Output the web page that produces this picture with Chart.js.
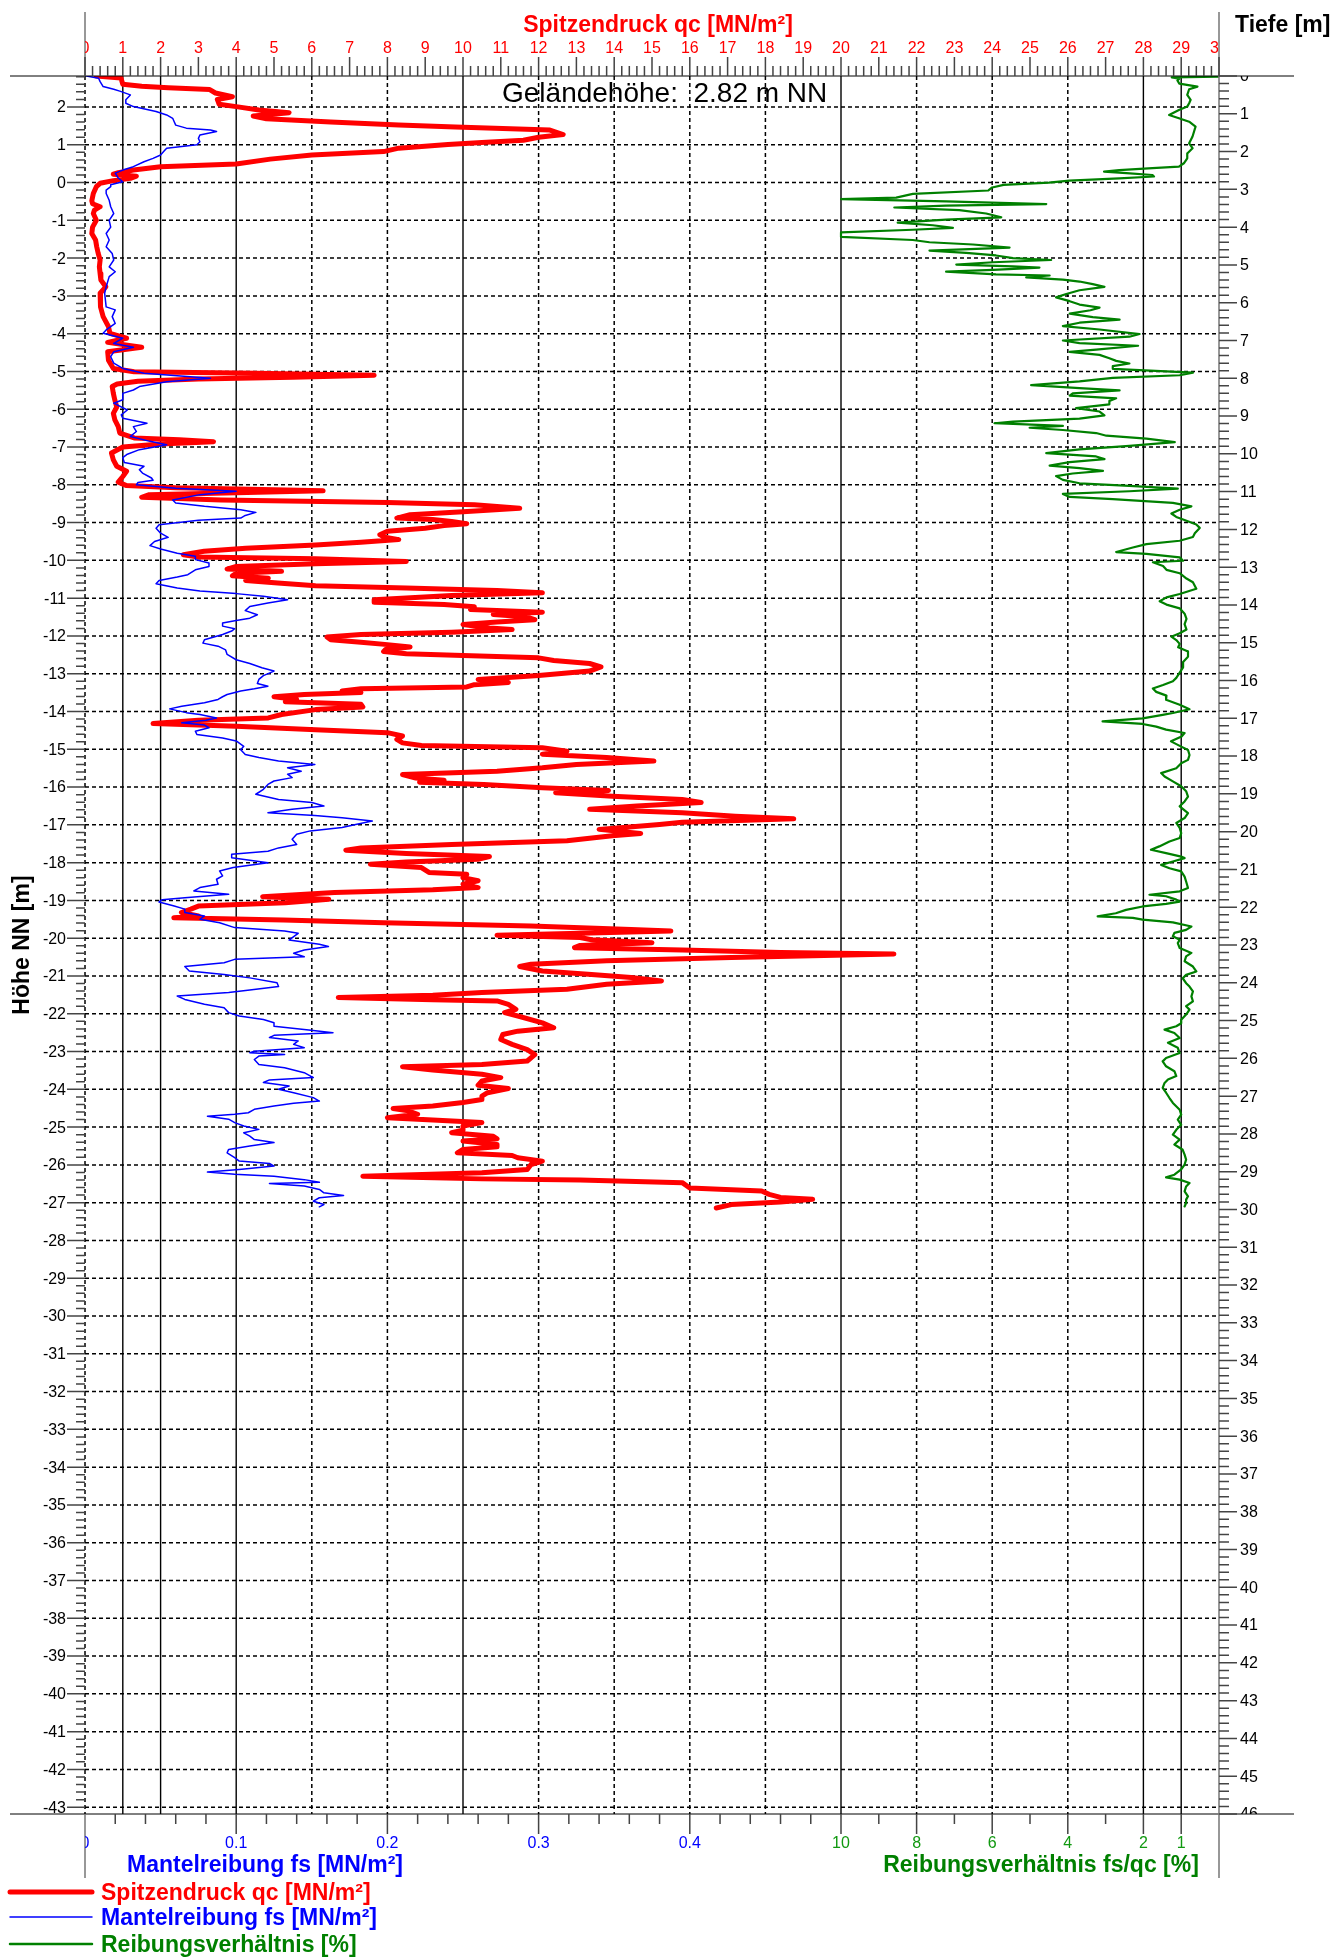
<!DOCTYPE html>
<html>
<head>
<meta charset="utf-8">
<script src="https://cdn.jsdelivr.net/npm/chart.js@4.4.0/dist/chart.umd.min.js"></script>
<style>
html,body{margin:0;padding:0;background:#fff;}
canvas{display:block;}
</style>
</head>
<body>
<canvas id="c" width="1336" height="1959"></canvas>
<script>
// ---------- DATA ----------
// Spitzendruck qc [MN/m²] vs Tiefe [m]
const qcDepth = [0.00,0.05,0.22,0.27,0.31,0.36,0.45,0.55,0.62,0.75,0.81,0.90,0.97,1.06,1.13,1.22,1.30,1.35,1.43,1.55,1.62,1.70,1.76,1.81,1.91,2.00,2.09,2.20,2.33,2.40,2.49,2.56,2.60,2.65,2.71,2.77,2.84,2.93,3.11,3.30,3.38,3.46,3.55,3.64,3.82,4.00,4.17,4.34,4.52,4.70,4.87,5.05,5.23,5.40,5.58,5.75,5.95,6.11,6.37,6.63,6.81,6.94,7.05,7.18,7.30,7.52,7.74,7.83,7.87,7.92,7.97,8.02,8.08,8.15,8.22,8.40,8.58,8.76,8.93,9.10,9.28,9.45,9.58,9.63,9.68,9.74,9.82,9.98,10.16,10.33,10.46,10.60,10.75,10.84,10.90,10.98,11.03,11.08,11.15,11.22,11.29,11.35,11.44,11.53,11.61,11.70,11.74,11.79,11.85,11.90,11.97,12.05,12.14,12.20,12.27,12.34,12.41,12.50,12.58,12.67,12.73,12.78,12.85,12.91,12.98,13.05,13.11,13.16,13.23,13.29,13.35,13.42,13.49,13.55,13.62,13.68,13.75,13.86,13.93,13.99,14.05,14.12,14.19,14.25,14.31,14.39,14.45,14.52,14.61,14.65,14.72,14.78,14.85,14.92,14.99,15.05,15.11,15.18,15.23,15.29,15.34,15.40,15.47,15.55,15.64,15.75,15.87,15.97,16.05,16.11,16.17,16.22,16.28,16.32,16.37,16.43,16.50,16.56,16.63,16.70,16.77,16.90,16.99,17.05,17.14,17.21,17.30,17.38,17.47,17.56,17.65,17.72,17.78,17.87,17.95,18.04,18.13,18.22,18.31,18.40,18.49,18.58,18.64,18.69,18.75,18.84,18.91,18.97,19.06,19.15,19.23,19.32,19.41,19.50,19.59,19.66,19.75,19.81,19.94,20.05,20.11,20.24,20.34,20.43,20.49,20.58,20.66,20.73,20.80,20.86,20.95,21.08,21.13,21.22,21.30,21.39,21.48,21.54,21.61,21.72,21.79,21.88,21.97,22.05,22.14,22.23,22.28,22.34,22.41,22.50,22.59,22.63,22.69,22.74,22.80,22.86,22.94,23.01,23.07,23.13,23.20,23.24,23.33,23.42,23.51,23.57,23.69,23.78,23.86,23.95,24.04,24.17,24.26,24.33,24.39,24.45,24.48,24.57,24.70,24.79,24.88,25.06,25.19,25.28,25.37,25.50,25.63,25.77,25.90,26.07,26.16,26.22,26.31,26.42,26.51,26.60,26.71,26.80,26.91,27.00,27.09,27.17,27.26,27.33,27.39,27.48,27.57,27.63,27.70,27.79,27.90,27.97,28.06,28.13,28.19,28.28,28.34,28.41,28.50,28.57,28.63,28.72,28.81,28.94,29.03,29.12,29.19,29.22,29.29,29.43,29.51,29.60,29.68,29.73,29.80,29.87,29.96];
const qcValues = [0.30,0.95,1.00,1.50,2.20,3.30,3.45,3.90,3.50,3.55,4.00,4.60,5.40,4.45,4.80,6.50,8.30,9.80,12.30,12.65,12.00,11.60,10.50,9.60,8.30,7.90,6.00,4.90,4.00,2.00,1.28,0.88,0.75,1.36,1.20,0.75,0.40,0.30,0.22,0.18,0.20,0.40,0.25,0.22,0.30,0.20,0.18,0.28,0.31,0.35,0.40,0.38,0.40,0.42,0.55,0.40,0.42,0.40,0.48,0.62,0.66,1.10,0.60,1.50,0.60,0.62,0.75,1.30,4.50,7.65,5.50,3.00,1.40,0.85,0.72,0.75,0.79,0.84,0.75,0.79,0.88,0.92,1.30,2.50,3.40,2.00,1.00,0.70,0.75,0.84,1.10,1.00,0.88,1.10,2.40,6.30,4.00,1.70,1.50,3.60,8.00,10.30,11.50,10.00,8.60,8.25,9.20,9.70,10.10,9.50,9.00,8.00,7.80,7.90,8.30,7.30,6.10,4.25,3.15,2.60,3.00,6.10,8.50,6.10,4.00,3.76,5.20,4.00,3.90,4.85,4.25,5.10,6.10,8.50,10.90,12.10,9.70,7.65,7.65,9.50,10.30,10.20,12.10,10.80,11.65,11.90,10.90,10.00,10.70,11.30,9.70,7.30,6.40,6.50,7.30,8.00,8.60,7.95,7.90,8.50,10.00,12.00,12.40,13.35,13.65,13.35,12.00,10.40,11.20,10.30,10.10,7.30,6.80,7.30,5.80,5.00,5.60,5.30,7.30,7.35,6.10,5.20,4.85,3.00,1.80,4.00,6.10,8.00,8.40,8.25,8.40,8.90,12.10,12.75,12.10,13.80,15.05,13.00,12.10,10.90,8.40,8.75,9.50,8.85,10.55,12.10,13.85,12.45,13.95,15.80,16.30,14.60,13.35,15.80,17.20,18.75,15.80,15.20,13.60,14.70,13.95,12.75,9.70,7.30,6.90,8.50,10.70,10.40,8.50,7.55,8.90,9.10,10.10,10.00,10.40,10.00,10.40,9.20,6.60,4.70,6.45,5.30,3.00,2.80,2.55,3.00,2.35,5.25,7.90,11.80,14.45,15.50,13.10,10.90,13.10,13.40,15.00,13.10,12.95,15.80,18.40,21.40,17.10,13.80,11.80,11.50,12.10,13.40,14.45,15.25,13.80,12.75,10.50,9.20,6.70,9.20,10.90,11.20,11.40,11.10,11.45,12.10,12.40,11.45,11.05,11.00,11.30,11.70,11.90,11.70,10.50,8.40,9.20,10.50,11.00,10.50,10.40,11.20,10.65,10.50,10.50,10.00,9.20,8.15,8.55,8.80,8.00,9.20,10.50,10.00,10.00,9.70,10.80,10.90,10.00,10.90,10.90,10.00,9.85,11.30,11.45,12.10,11.80,11.70,10.50,7.35,10.50,13.10,15.80,16.00,17.90,18.10,18.40,19.25,18.40,17.10,16.70];

// Mantelreibung fs [MN/m²] vs Tiefe [m]
const fsDepth = [0.00,0.06,0.15,0.28,0.35,0.40,0.50,0.63,0.72,0.81,0.94,1.03,1.12,1.21,1.30,1.38,1.43,1.47,1.56,1.65,1.74,1.82,1.91,2.00,2.09,2.18,2.27,2.40,2.49,2.57,2.70,2.80,2.88,2.93,3.02,3.11,3.29,3.46,3.64,3.82,4.00,4.17,4.34,4.52,4.70,4.87,5.05,5.18,5.31,5.58,5.75,6.11,6.19,6.37,6.55,6.72,6.81,6.94,7.08,7.18,7.30,7.43,7.60,7.74,7.87,8.00,8.09,8.22,8.31,8.40,8.57,8.66,8.84,8.97,9.06,9.19,9.28,9.41,9.54,9.67,9.76,9.89,10.01,10.10,10.23,10.33,10.42,10.51,10.64,10.70,10.76,10.82,10.91,10.99,11.08,11.22,11.30,11.39,11.48,11.55,11.63,11.70,11.76,11.88,11.97,12.10,12.21,12.32,12.43,12.52,12.63,12.71,12.80,12.89,12.98,13.07,13.20,13.26,13.35,13.44,13.55,13.63,13.70,13.77,13.86,13.95,14.04,14.15,14.26,14.35,14.41,14.48,14.56,14.63,14.69,14.78,14.92,15.01,15.09,15.19,15.31,15.45,15.55,15.66,15.75,15.87,15.97,16.08,16.15,16.22,16.28,16.37,16.43,16.50,16.59,16.68,16.75,16.85,16.90,16.99,17.05,17.12,17.18,17.25,17.34,17.43,17.52,17.60,17.74,17.83,17.96,18.04,18.13,18.22,18.31,18.40,18.48,18.57,18.66,18.75,18.88,19.01,19.15,19.23,19.32,19.41,19.50,19.57,19.63,19.72,19.81,19.89,19.98,20.07,20.20,20.34,20.43,20.52,20.60,20.69,20.82,20.95,21.04,21.17,21.26,21.39,21.48,21.57,21.66,21.75,21.80,21.86,21.97,22.05,22.14,22.23,22.32,22.41,22.54,22.63,22.69,22.78,22.87,22.98,23.04,23.13,23.22,23.31,23.38,23.47,23.57,23.69,23.78,23.87,24.00,24.10,24.19,24.26,24.35,24.44,24.57,24.66,24.79,24.88,24.97,25.06,25.15,25.25,25.32,25.39,25.45,25.54,25.63,25.72,25.81,25.85,25.90,25.94,26.03,26.16,26.25,26.38,26.51,26.57,26.64,26.73,26.82,26.91,27.04,27.13,27.19,27.26,27.35,27.44,27.48,27.53,27.61,27.70,27.79,27.88,27.97,28.06,28.15,28.23,28.32,28.41,28.50,28.63,28.72,28.78,28.85,28.94,29.01,29.07,29.12,29.21,29.28,29.31,29.38,29.47,29.56,29.63,29.69,29.78,29.87,29.93];
const fsValues = [0.001,0.009,0.010,0.012,0.019,0.023,0.030,0.027,0.027,0.032,0.047,0.054,0.058,0.059,0.060,0.067,0.083,0.087,0.076,0.075,0.076,0.074,0.054,0.052,0.050,0.045,0.039,0.032,0.025,0.020,0.022,0.025,0.017,0.017,0.014,0.014,0.016,0.017,0.019,0.016,0.017,0.014,0.016,0.014,0.018,0.019,0.016,0.020,0.016,0.014,0.013,0.014,0.020,0.018,0.020,0.014,0.012,0.025,0.019,0.032,0.019,0.017,0.019,0.025,0.039,0.083,0.054,0.036,0.032,0.025,0.025,0.019,0.028,0.024,0.025,0.041,0.032,0.034,0.030,0.043,0.054,0.036,0.028,0.025,0.026,0.039,0.036,0.038,0.044,0.045,0.035,0.034,0.060,0.100,0.076,0.058,0.060,0.079,0.103,0.113,0.106,0.103,0.075,0.049,0.047,0.050,0.055,0.046,0.043,0.050,0.061,0.073,0.073,0.082,0.082,0.073,0.068,0.061,0.049,0.047,0.061,0.076,0.100,0.118,0.134,0.121,0.109,0.106,0.114,0.109,0.100,0.091,0.091,0.099,0.097,0.091,0.079,0.078,0.088,0.093,0.094,0.100,0.109,0.117,0.125,0.118,0.115,0.114,0.121,0.112,0.103,0.094,0.091,0.088,0.079,0.064,0.056,0.067,0.076,0.087,0.080,0.064,0.079,0.082,0.073,0.074,0.091,0.100,0.105,0.103,0.106,0.115,0.128,0.152,0.134,0.143,0.134,0.137,0.125,0.121,0.118,0.113,0.128,0.150,0.158,0.137,0.121,0.152,0.170,0.190,0.179,0.170,0.149,0.140,0.137,0.140,0.128,0.121,0.097,0.097,0.121,0.098,0.089,0.091,0.087,0.088,0.076,0.072,0.095,0.066,0.051,0.049,0.059,0.066,0.066,0.079,0.076,0.089,0.099,0.132,0.141,0.138,0.135,0.155,0.161,0.145,0.138,0.145,0.099,0.092,0.066,0.069,0.092,0.109,0.127,0.128,0.109,0.095,0.061,0.066,0.079,0.092,0.095,0.102,0.118,0.125,0.125,0.148,0.164,0.125,0.122,0.141,0.138,0.145,0.112,0.109,0.132,0.115,0.112,0.115,0.132,0.145,0.151,0.122,0.118,0.135,0.128,0.138,0.151,0.155,0.138,0.125,0.112,0.108,0.099,0.081,0.095,0.099,0.105,0.115,0.105,0.109,0.112,0.125,0.109,0.095,0.094,0.099,0.102,0.122,0.125,0.102,0.081,0.099,0.125,0.145,0.155,0.122,0.145,0.155,0.158,0.171,0.155,0.151,0.158,0.155];

// Reibungsverhältnis fs/qc [%] vs Tiefe [m]
const rfDepth = [0.02,0.035,0.07,0.12,0.20,0.28,0.35,0.50,0.63,0.72,0.81,0.90,1.03,1.12,1.21,1.34,1.47,1.60,1.78,1.91,2.05,2.18,2.31,2.40,2.44,2.49,2.53,2.57,2.62,2.66,2.71,2.77,2.82,2.88,2.95,3.03,3.12,3.22,3.26,3.32,3.39,3.43,3.48,3.55,3.64,3.74,3.80,3.88,3.95,4.02,4.07,4.14,4.26,4.34,4.40,4.46,4.54,4.62,4.68,4.75,4.82,4.87,4.93,4.99,5.04,5.07,5.13,5.18,5.25,5.28,5.33,5.39,5.44,5.51,5.58,5.67,5.77,5.86,5.96,6.05,6.13,6.20,6.29,6.38,6.45,6.53,6.62,6.71,6.83,6.90,7.00,7.07,7.14,7.24,7.30,7.38,7.47,7.54,7.61,7.68,7.75,7.85,7.92,7.99,8.08,8.18,8.26,8.32,8.40,8.46,8.53,8.60,8.69,8.79,8.88,8.98,9.07,9.15,9.19,9.26,9.31,9.37,9.45,9.52,9.60,9.69,9.79,9.88,9.98,10.07,10.14,10.22,10.31,10.38,10.45,10.52,10.59,10.69,10.78,10.85,10.92,10.99,11.06,11.14,11.20,11.30,11.39,11.48,11.58,11.67,11.77,11.87,11.96,12.10,12.20,12.30,12.39,12.48,12.60,12.65,12.74,12.83,12.87,12.97,13.07,13.16,13.30,13.40,13.57,13.71,13.80,13.90,13.99,14.09,14.23,14.37,14.51,14.65,14.75,14.84,14.93,15.03,15.12,15.23,15.37,15.51,15.65,15.79,15.93,16.02,16.12,16.21,16.30,16.40,16.51,16.64,16.76,16.86,16.91,17.00,17.08,17.15,17.22,17.30,17.39,17.48,17.61,17.75,17.84,17.97,18.10,18.19,18.32,18.45,18.54,18.67,18.80,18.93,19.07,19.20,19.33,19.51,19.64,19.77,19.90,20.04,20.17,20.26,20.39,20.48,20.57,20.66,20.70,20.79,20.88,20.97,21.05,21.19,21.32,21.49,21.58,21.67,21.71,21.80,21.85,21.91,21.98,22.07,22.16,22.24,22.28,22.33,22.40,22.51,22.60,22.68,22.77,22.86,22.95,23.08,23.21,23.30,23.43,23.57,23.70,23.79,23.88,24.01,24.10,24.23,24.36,24.49,24.62,24.71,24.84,24.98,25.07,25.15,25.24,25.33,25.46,25.59,25.72,25.86,25.99,26.08,26.21,26.34,26.47,26.56,26.65,26.78,26.91,27.05,27.18,27.36,27.49,27.62,27.76,27.89,28.02,28.15,28.28,28.42,28.55,28.68,28.81,28.94,29.08,29.15,29.21,29.30,29.39,29.52,29.65,29.74,29.83,29.92];
const rfValues = [0.00,1.25,1.05,1.10,1.05,0.57,0.79,0.84,0.75,0.79,0.84,1.06,1.32,1.06,0.79,0.62,0.66,0.70,0.79,0.70,0.84,0.84,0.93,1.06,1.76,2.64,3.04,2.45,1.76,1.72,2.64,3.96,4.50,5.70,6.00,6.10,8.10,8.54,10.00,7.22,4.57,7.22,8.59,6.87,6.16,5.76,7.22,8.50,7.57,7.04,8.10,10.00,10.00,8.10,7.66,6.51,5.54,7.66,6.69,5.90,5.45,4.44,5.98,6.95,5.45,4.75,5.98,7.22,5.90,4.48,5.10,4.13,3.69,3.34,3.03,3.69,4.04,4.31,3.95,3.69,3.16,3.40,3.95,3.34,2.63,3.69,4.13,3.16,2.10,2.37,4.13,3.69,2.14,3.25,3.95,3.16,2.90,2.72,2.37,2.81,2.81,0.69,1.04,2.81,3.69,4.97,3.69,2.63,3.87,3.95,2.72,2.90,2.90,3.78,3.16,3.03,3.69,5.45,5.94,4.13,5.01,4.13,3.25,2.98,1.92,1.17,2.37,3.69,4.57,3.25,3.03,3.95,4.48,3.69,3.07,3.87,4.31,4.13,3.69,2.37,1.09,2.37,4.13,3.95,2.81,1.22,0.73,1.04,1.26,1.13,0.86,0.60,0.51,0.64,0.69,1.04,1.92,2.28,2.72,1.92,1.04,0.95,1.75,1.48,1.39,1.04,0.86,0.69,0.60,1.04,1.39,1.57,1.39,1.04,0.91,0.86,0.91,0.86,1.04,1.26,1.13,1.04,1.08,0.82,0.82,0.95,0.95,1.04,1.13,1.22,1.48,1.75,1.66,1.39,1.40,1.04,0.78,1.22,1.49,2.02,3.08,2.02,1.66,1.40,0.91,0.99,1.27,1.00,0.82,0.78,0.82,1.00,1.13,1.53,1.44,1.22,1.00,0.87,0.82,0.91,1.04,0.82,0.91,1.13,1.04,1.00,1.04,1.31,1.58,1.80,1.40,1.00,0.91,1.22,1.53,1.31,1.00,0.91,0.87,0.82,1.04,1.84,1.40,1.13,1.04,1.40,2.02,2.46,2.73,3.21,2.28,2.02,1.22,0.73,0.87,1.18,1.22,1.04,1.09,1.04,0.73,0.87,0.91,0.69,0.60,0.87,0.96,0.87,0.78,0.69,0.73,0.69,0.87,0.78,0.87,1.00,1.00,1.13,1.44,1.18,1.04,1.35,1.09,1.04,1.40,1.49,1.40,1.18,1.13,1.35,1.44,1.49,1.40,1.31,1.22,1.04,1.00,1.09,1.00,1.13,1.22,1.04,1.18,0.96,0.91,0.87,0.91,1.00,1.18,1.40,1.04,0.78,0.87,0.91,0.82,0.87,0.87,0.91];

// Tick labels
const qcTickLabels = ['0','1','2','3','4','5','6','7','8','9','10','11','12','13','14','15','16','17','18','19','20','21','22','23','24','25','26','27','28','29','30'];
const fsTickValues = [0, 0.1, 0.2, 0.3, 0.4];
const fsTickLabels = ['0','0.1','0.2','0.3','0.4'];
const rfTickValues = [10, 8, 6, 4, 2, 1];
const rfTickLabels = ['10','8','6','4','2','1'];
const rfMinorTicks = [9, 7, 5, 3];
const groundLevel = 2.82;     // Geländehöhe m NN
const depthMax = 46;          // Tiefe [m] range
const qcDashedGrid = [0,6,8,12,14,16,18,22,24,26];
const qcSolidGrid = [1,2,10];
const fsSolidGrid = [0.1];
const rfSolidGrid = [10,2,1];

// ---------- CHART ----------
const FONT = '"Liberation Sans", Arial, Helvetica, sans-serif';
const RED = '#ff0000', BLUE = '#0000ff', GREEN = '#008000';

function pts(ds, vs){ return ds.map((d,i)=>({x: vs[i], y: d})); }

const decor = {
  id: 'decor',
  beforeDatasetsDraw(chart){
    const {ctx, chartArea:a, scales:s} = chart;
    ctx.save();
    ctx.strokeStyle = '#000';
    ctx.lineWidth = 1.5;
    ctx.setLineDash([4,3]);
    ctx.beginPath();
    for (let h = Math.floor(groundLevel); h >= Math.ceil(groundLevel - depthMax); h--) {
      const y = s.yh.getPixelForValue(h);
      ctx.moveTo(a.left, y); ctx.lineTo(a.right, y);
    }
    qcDashedGrid.forEach(v=>{ const x = s.x.getPixelForValue(v); ctx.moveTo(x, a.top); ctx.lineTo(x, a.bottom); });
    ctx.stroke();
    ctx.setLineDash([]);
    ctx.lineWidth = 1.4;
    ctx.beginPath();
    qcSolidGrid.forEach(v=>{ const x = s.x.getPixelForValue(v); ctx.moveTo(x, a.top); ctx.lineTo(x, a.bottom); });
    fsSolidGrid.forEach(v=>{ const x = s.xfs.getPixelForValue(v); ctx.moveTo(x, a.top); ctx.lineTo(x, a.bottom); });
    rfSolidGrid.forEach(v=>{ const x = s.xr.getPixelForValue(v); ctx.moveTo(x, a.top); ctx.lineTo(x, a.bottom); });
    ctx.stroke();
    ctx.restore();
  },
  afterDatasetsDraw(chart){
    const {ctx, chartArea:a, scales:s} = chart;
    ctx.save();
    // axis lines
    ctx.strokeStyle = '#000'; ctx.lineWidth = 1;
    ctx.beginPath();
    ctx.moveTo(10, a.top); ctx.lineTo(1294, a.top);
    ctx.moveTo(10, a.bottom); ctx.lineTo(1294, a.bottom);
    ctx.stroke();
    ctx.strokeStyle = '#777'; ctx.lineWidth = 1.5;
    ctx.beginPath();
    ctx.moveTo(a.left, 12); ctx.lineTo(a.left, a.top);
    ctx.moveTo(a.left, a.bottom); ctx.lineTo(a.left, 1878);
    ctx.moveTo(a.right, 12); ctx.lineTo(a.right, 1878);
    ctx.stroke();

    // ticks
    ctx.strokeStyle = '#444'; ctx.lineWidth = 1.5;
    ctx.beginPath();
    for (let k = 0; k <= 150; k++) {          // top qc ticks
      const x = s.x.getPixelForValue(k*0.2);
      const len = (k % 5 === 0) ? 19 : 10;
      ctx.moveTo(x, a.top); ctx.lineTo(x, a.top - len);
    }
    for (let k = Math.ceil((groundLevel-depthMax)/0.2 - 1e-6); k <= Math.floor(groundLevel/0.2 + 1e-6); k++) { // left height ticks
      const y = s.yh.getPixelForValue(k*0.2);
      const len = (k % 5 === 0) ? 18 : 9;
      ctx.moveTo(a.left, y); ctx.lineTo(a.left - len, y);
    }
    for (let k = 0; k <= depthMax*5; k++) {    // right depth ticks
      const y = s.y.getPixelForValue(k*0.2);
      const len = (k % 5 === 0) ? 18 : 10;
      ctx.moveTo(a.right, y); ctx.lineTo(a.right + len, y);
    }
    for (let k = 1; k <= 25; k++) {            // bottom fs ticks
      const x = s.xfs.getPixelForValue(k*0.02);
      const len = (k % 5 === 0) ? 20 : 10;
      ctx.moveTo(x, a.bottom); ctx.lineTo(x, a.bottom + len);
    }
    rfTickValues.forEach(v=>{ const x = s.xr.getPixelForValue(v); ctx.moveTo(x, a.bottom); ctx.lineTo(x, a.bottom + 20); });
    rfMinorTicks.forEach(v=>{ const x = s.xr.getPixelForValue(v); ctx.moveTo(x, a.bottom); ctx.lineTo(x, a.bottom + 10); });
    ctx.stroke();

    // top tick labels (clipped to plot width)
    ctx.save();
    ctx.beginPath(); ctx.rect(a.left, 0, a.right - a.left, a.top); ctx.clip();
    ctx.fillStyle = RED; ctx.font = '16px ' + FONT; ctx.textAlign = 'center'; ctx.textBaseline = 'alphabetic';
    qcTickLabels.forEach((t,i)=>{ ctx.fillText(t, s.x.getPixelForValue(i), 53); });
    ctx.restore();

    // left height labels
    ctx.fillStyle = '#000'; ctx.font = '16px ' + FONT; ctx.textAlign = 'right'; ctx.textBaseline = 'middle';
    for (let h = Math.floor(groundLevel); h >= Math.ceil(groundLevel - depthMax); h--) {
      ctx.fillText(String(h), 66, s.yh.getPixelForValue(h) + 1);
    }
    // right depth labels (clipped to plot height)
    ctx.save();
    ctx.beginPath(); ctx.rect(a.right, a.top, 120, a.bottom - a.top); ctx.clip();
    ctx.textAlign = 'left';
    for (let d = 0; d <= depthMax; d++) ctx.fillText(String(d), 1240, s.y.getPixelForValue(d) + 1);
    ctx.restore();

    // bottom labels
    ctx.save();
    ctx.beginPath(); ctx.rect(a.left, a.bottom, 1336 - a.left, 60); ctx.clip();
    ctx.font = '16px ' + FONT; ctx.textAlign = 'center'; ctx.textBaseline = 'alphabetic';
    ctx.fillStyle = BLUE;
    fsTickValues.forEach((v,i)=>{ ctx.fillText(fsTickLabels[i], s.xfs.getPixelForValue(v), 1848); });
    ctx.fillStyle = '#119911';
    rfTickValues.forEach((v,i)=>{ ctx.fillText(rfTickLabels[i], s.xr.getPixelForValue(v), 1848); });
    ctx.restore();

    // titles
    ctx.font = 'bold 23px ' + FONT; ctx.textBaseline = 'alphabetic';
    ctx.fillStyle = RED; ctx.textAlign = 'center';
    ctx.fillText('Spitzendruck qc [MN/m²]', (a.left + a.right)/2 + 6, 32);
    ctx.fillStyle = '#000'; ctx.textAlign = 'left';
    ctx.fillText('Tiefe [m]', 1235, 32);
    ctx.fillStyle = BLUE; ctx.textAlign = 'center';
    ctx.fillText('Mantelreibung fs [MN/m²]', 265, 1872);
    ctx.fillStyle = GREEN;
    ctx.fillText('Reibungsverhältnis fs/qc [%]', 1041, 1872);
    ctx.save();
    ctx.translate(23, 945); ctx.rotate(-Math.PI/2);
    ctx.fillStyle = '#000'; ctx.textAlign = 'center'; ctx.textBaseline = 'middle';
    ctx.fillText('Höhe NN [m]', 0, 0);
    ctx.restore();

    // ground level annotation
    ctx.font = '28px ' + FONT; ctx.fillStyle = '#000'; ctx.textAlign = 'left'; ctx.textBaseline = 'alphabetic';
    ctx.fillText('Geländehöhe:  ' + groundLevel.toFixed(2) + ' m NN', 502, 102);

    // legend
    const leg = [
      {t:'Spitzendruck qc [MN/m²]', c:RED, w:5, y:1892},
      {t:'Mantelreibung fs [MN/m²]', c:BLUE, w:1.5, y:1917},
      {t:'Reibungsverhältnis [%]', c:GREEN, w:2.5, y:1944}
    ];
    leg.forEach(L=>{
      ctx.strokeStyle = L.c; ctx.lineWidth = L.w; ctx.lineCap = 'round';
      ctx.beginPath(); ctx.moveTo(10, L.y); ctx.lineTo(92, L.y); ctx.stroke();
      ctx.fillStyle = L.c; ctx.font = 'bold 23px ' + FONT; ctx.textAlign = 'left'; ctx.textBaseline = 'alphabetic';
      ctx.fillText(L.t, 101, L.y + 8);
    });
    ctx.restore();
  }
};

const common = { showLine: true, pointRadius: 0, pointHoverRadius: 0, tension: 0, borderJoinStyle: 'round', borderCapStyle: 'round', fill: false };

new Chart(document.getElementById('c'), {
  type: 'scatter',
  data: {
    datasets: [
      Object.assign({ label: 'Mantelreibung fs [MN/m²]', data: pts(fsDepth, fsValues), borderColor: BLUE, borderWidth: 1.5, xAxisID: 'xfs', yAxisID: 'y', order: 1 }, common),
      Object.assign({ label: 'Reibungsverhältnis [%]', data: pts(rfDepth, rfValues), borderColor: GREEN, borderWidth: 2.2, xAxisID: 'xr', yAxisID: 'y', order: 2 }, common),
      Object.assign({ label: 'Spitzendruck qc [MN/m²]', data: pts(qcDepth, qcValues), borderColor: RED, borderWidth: 5, xAxisID: 'x', yAxisID: 'y', order: 3 }, common)
    ]
  },
  options: {
    responsive: false,
    animation: false,
    devicePixelRatio: 1,
    layout: { padding: { left: 85, right: 117, top: 76, bottom: 145 } },
    plugins: { legend: { display: false }, tooltip: { enabled: false } },
    events: [],
    scales: {
      x:   { type: 'linear', position: 'top', min: 0, max: 30, display: false },
      xfs: { type: 'linear', position: 'bottom', min: 0, max: 0.75, display: false },
      xr:  { type: 'linear', position: 'bottom', min: 0, max: 30, reverse: true, display: false },
      y:   { type: 'linear', position: 'right', min: 0, max: depthMax, reverse: true, display: false },
      yh:  { type: 'linear', position: 'left', min: groundLevel - depthMax, max: groundLevel, display: false }
    }
  },
  plugins: [decor]
});
</script>
</body>
</html>
